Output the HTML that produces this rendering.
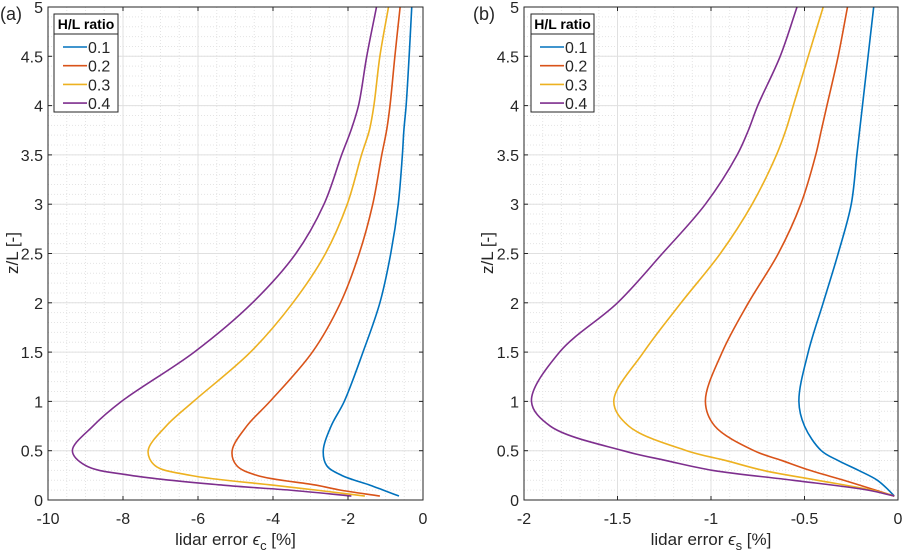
<!DOCTYPE html>
<html><head><meta charset="utf-8"><style>
body{margin:0;background:#fff;}
svg{display:block;font-family:"Liberation Sans",sans-serif;}
</style></head><body>
<svg id="chart" width="904" height="553" viewBox="0 0 904 553"></svg>
<script>
const zVals=[0.04,0.1,0.15,0.25,0.35,0.5,0.75,1,1.5,2,2.5,3,3.5,3.75,4,4.5,5];
const aBlue=[-0.64,-1.06,-1.41,-2.17,-2.57,-2.66,-2.45,-2.1,-1.6,-1.15,-0.86,-0.66,-0.55,-0.51,-0.45,-0.37,-0.30];
const aRed=[-1.15,-2.2,-2.84,-4.43,-4.97,-5.09,-4.7,-4.08,-2.95,-2.2,-1.7,-1.34,-1.10,-0.97,-0.88,-0.75,-0.61];
const aYellow=[-1.55,-2.84,-3.99,-6.2,-7.15,-7.33,-6.85,-6.12,-4.6,-3.47,-2.6,-2.02,-1.64,-1.43,-1.31,-1.15,-0.92];
const aPurple=[-1.91,-3.55,-5.33,-7.8,-9.0,-9.35,-8.8,-8.04,-6.1,-4.55,-3.39,-2.64,-2.17,-1.92,-1.72,-1.50,-1.24];
const zValsB=[0.04,0.1,0.2,0.3,0.4,0.5,0.75,1,1.5,2,2.5,3,3.5,3.75,4,4.5,5];
const bBlue=[-0.02,-0.05,-0.11,-0.21,-0.32,-0.41,-0.50,-0.53,-0.48,-0.40,-0.32,-0.25,-0.22,-0.205,-0.19,-0.16,-0.13];
const bRed=[-0.02,-0.12,-0.29,-0.47,-0.62,-0.77,-0.98,-1.03,-0.94,-0.80,-0.64,-0.52,-0.44,-0.41,-0.38,-0.32,-0.27];
const bYellow=[-0.02,-0.14,-0.43,-0.72,-0.92,-1.13,-1.44,-1.52,-1.36,-1.16,-0.95,-0.78,-0.65,-0.60,-0.56,-0.48,-0.40];
const bPurple=[-0.02,-0.16,-0.56,-0.99,-1.24,-1.47,-1.86,-1.96,-1.81,-1.50,-1.26,-1.03,-0.86,-0.80,-0.75,-0.63,-0.54];
const legendLabels=["0.1","0.2","0.3","0.4"];
const colors=["#0072BD","#D95319","#EDB120","#7E2F8E"];
const yTicks=[0,0.5,1,1.5,2,2.5,3,3.5,4,4.5,5];
const yTickLabels=["0","0.5","1","1.5","2","2.5","3","3.5","4","4.5","5"];
const aXTicks=[-10,-8,-6,-4,-2,0];
const bXTicks=[-2,-1.5,-1,-0.5,0];

const NS="http://www.w3.org/2000/svg";
const svg=document.getElementById('chart');
function mk(tag,attrs,parent){const e=document.createElementNS(NS,tag);for(const k in attrs)e.setAttribute(k,attrs[k]);(parent||svg).appendChild(e);return e;}

function smoothPath(pts){
  const a=0.5;
  const n=pts.length;
  const P=i=>{
    if(i<0)return[2*pts[0][0]-pts[1][0],2*pts[0][1]-pts[1][1]];
    if(i>=n)return[2*pts[n-1][0]-pts[n-2][0],2*pts[n-1][1]-pts[n-2][1]];
    return pts[i];
  };
  const dist=(p,q)=>Math.max(1e-6,Math.hypot(p[0]-q[0],p[1]-q[1]));
  let d='M'+pts[0][0].toFixed(2)+','+pts[0][1].toFixed(2);
  for(let j=0;j<n-1;j++){
    const p0=P(j-1),p1=P(j),p2=P(j+1),p3=P(j+2);
    const d1=Math.pow(dist(p0,p1),a),d2=Math.pow(dist(p1,p2),a),d3=Math.pow(dist(p2,p3),a);
    const c1=[0,1].map(k=>(d1*d1*p2[k]-d2*d2*p0[k]+(2*d1*d1+3*d1*d2+d2*d2)*p1[k])/(3*d1*(d1+d2)));
    const c2=[0,1].map(k=>(d3*d3*p1[k]-d2*d2*p3[k]+(2*d3*d3+3*d3*d2+d2*d2)*p2[k])/(3*d3*(d3+d2)));
    d+=` C${c1[0].toFixed(2)},${c1[1].toFixed(2)} ${c2[0].toFixed(2)},${c2[1].toFixed(2)} ${p2[0].toFixed(2)},${p2[1].toFixed(2)}`;
  }
  return d;
}

function panel(cfg){
  const L=cfg.left,R=cfg.right,T=7,B=500;
  const g=mk('g',{});
  
  
  const xs=v=>L+(v-cfg.xmin)/(cfg.xmax-cfg.xmin)*(R-L);
  const ys=v=>B-(v-0)/5*(B-T);
  for(let v=cfg.xmin;v<=cfg.xmax+1e-9;v+=cfg.xminor){mk('line',{x1:xs(v),x2:xs(v),y1:T,y2:B,stroke:'#e4e4e4','stroke-width':1,'stroke-dasharray':'1,2'},g);}
  for(let v=0;v<=5+1e-9;v+=0.1){mk('line',{x1:L,x2:R,y1:ys(v),y2:ys(v),stroke:'#e4e4e4','stroke-width':1,'stroke-dasharray':'1,2'},g);}
  cfg.xticks.forEach(v=>mk('line',{x1:xs(v),x2:xs(v),y1:T,y2:B,stroke:'#e0e0e0','stroke-width':1},g));
  yTicks.forEach(v=>mk('line',{x1:L,x2:R,y1:ys(v),y2:ys(v),stroke:'#e0e0e0','stroke-width':1},g));
  cfg.series.forEach((s,i)=>{
    const pts=s.map((x,j)=>[xs(x),ys(cfg.z[j])]);
    const p=mk('path',{d:smoothPath(pts),fill:'none',stroke:colors[i],'stroke-width':1.6},g);
    
    
  });
  mk('rect',{x:L,y:T,width:R-L,height:B-T,fill:'none',stroke:'#262626','stroke-width':1},g);
  cfg.xticks.forEach((v,i)=>{
    mk('line',{x1:xs(v),x2:xs(v),y1:B,y2:B-4,stroke:'#262626'},g);
    mk('line',{x1:xs(v),x2:xs(v),y1:T,y2:T+4,stroke:'#262626'},g);
    const t=mk('text',{x:xs(v),y:524,'text-anchor':'middle','font-size':16,fill:'#262626'},g);
    t.textContent=cfg.xlabels[i];
    
    
  });
  yTicks.forEach((v,i)=>{
    mk('line',{x1:L,x2:L+4,y1:ys(v),y2:ys(v),stroke:'#262626'},g);
    mk('line',{x1:R,x2:R-4,y1:ys(v),y2:ys(v),stroke:'#262626'},g);
    const t=mk('text',{x:L-5,y:ys(v)+6,'text-anchor':'end','font-size':16,fill:'#262626'},g);
    t.textContent=yTickLabels[i];
    
    
  });
  const yt=mk('text',{x:0,y:0,transform:`translate(${cfg.ytx},253) rotate(-90)`,'text-anchor':'middle','font-size':17,fill:'#262626'},g);
  yt.textContent='z/L [-]';
  
  
  const xt=mk('text',{x:(L+R)/2,y:545,'text-anchor':'middle','font-size':17,fill:'#262626'},g);
  xt.innerHTML='lidar error <tspan font-style="italic">ϵ</tspan><tspan dy="5" font-size="13">'+cfg.sub+'</tspan><tspan dy="-5"> [%]</tspan>';
  
  
  const pl=mk('text',{x:cfg.plx,y:20,'font-size':18,fill:'#262626'},g);
  pl.textContent=cfg.tag;
  
  
  const lg=mk('g',{},g);
  
  
  const lx=cfg.lgx,lw=cfg.lgw;
  mk('rect',{x:lx,y:14,width:lw,height:98,fill:'#fff',stroke:'#262626','stroke-width':1},lg);
  mk('line',{x1:lx,x2:lx+lw,y1:34,y2:34,stroke:'#262626','stroke-width':1},lg);
  const lt=mk('text',{x:lx+lw/2,y:29,'text-anchor':'middle','font-size':14,'font-weight':'bold',fill:'#000'},lg);
  lt.textContent='H/L ratio';
  
  
  legendLabels.forEach((lab,i)=>{
    const yy=47+i*18.7;
    const e=mk('g',{},lg);
    
    
    mk('line',{x1:lx+9,x2:lx+33,y1:yy,y2:yy,stroke:colors[i],'stroke-width':1.6},e);
    const tt=mk('text',{x:lx+34,y:yy+6,'font-size':16,fill:'#262626'},e);
    tt.textContent=lab;
  });
}
panel({name:'panel-a',left:48,right:423,xmin:-10,xmax:0,xminor:0.5,xticks:aXTicks,xlabels:["-10","-8","-6","-4","-2","0"],
  z:zVals,series:[aBlue,aRed,aYellow,aPurple],sub:'c',ytx:18,plx:0,tag:'(a)',lgx:54,lgw:64});
panel({name:'panel-b',left:524,right:898,xmin:-2,xmax:0,xminor:0.1,xticks:bXTicks,xlabels:["-2","-1.5","-1","-0.5","0"],
  z:zValsB,series:[bBlue,bRed,bYellow,bPurple],sub:'s',ytx:493,plx:473,tag:'(b)',lgx:531,lgw:63});
</script>
</body></html>
